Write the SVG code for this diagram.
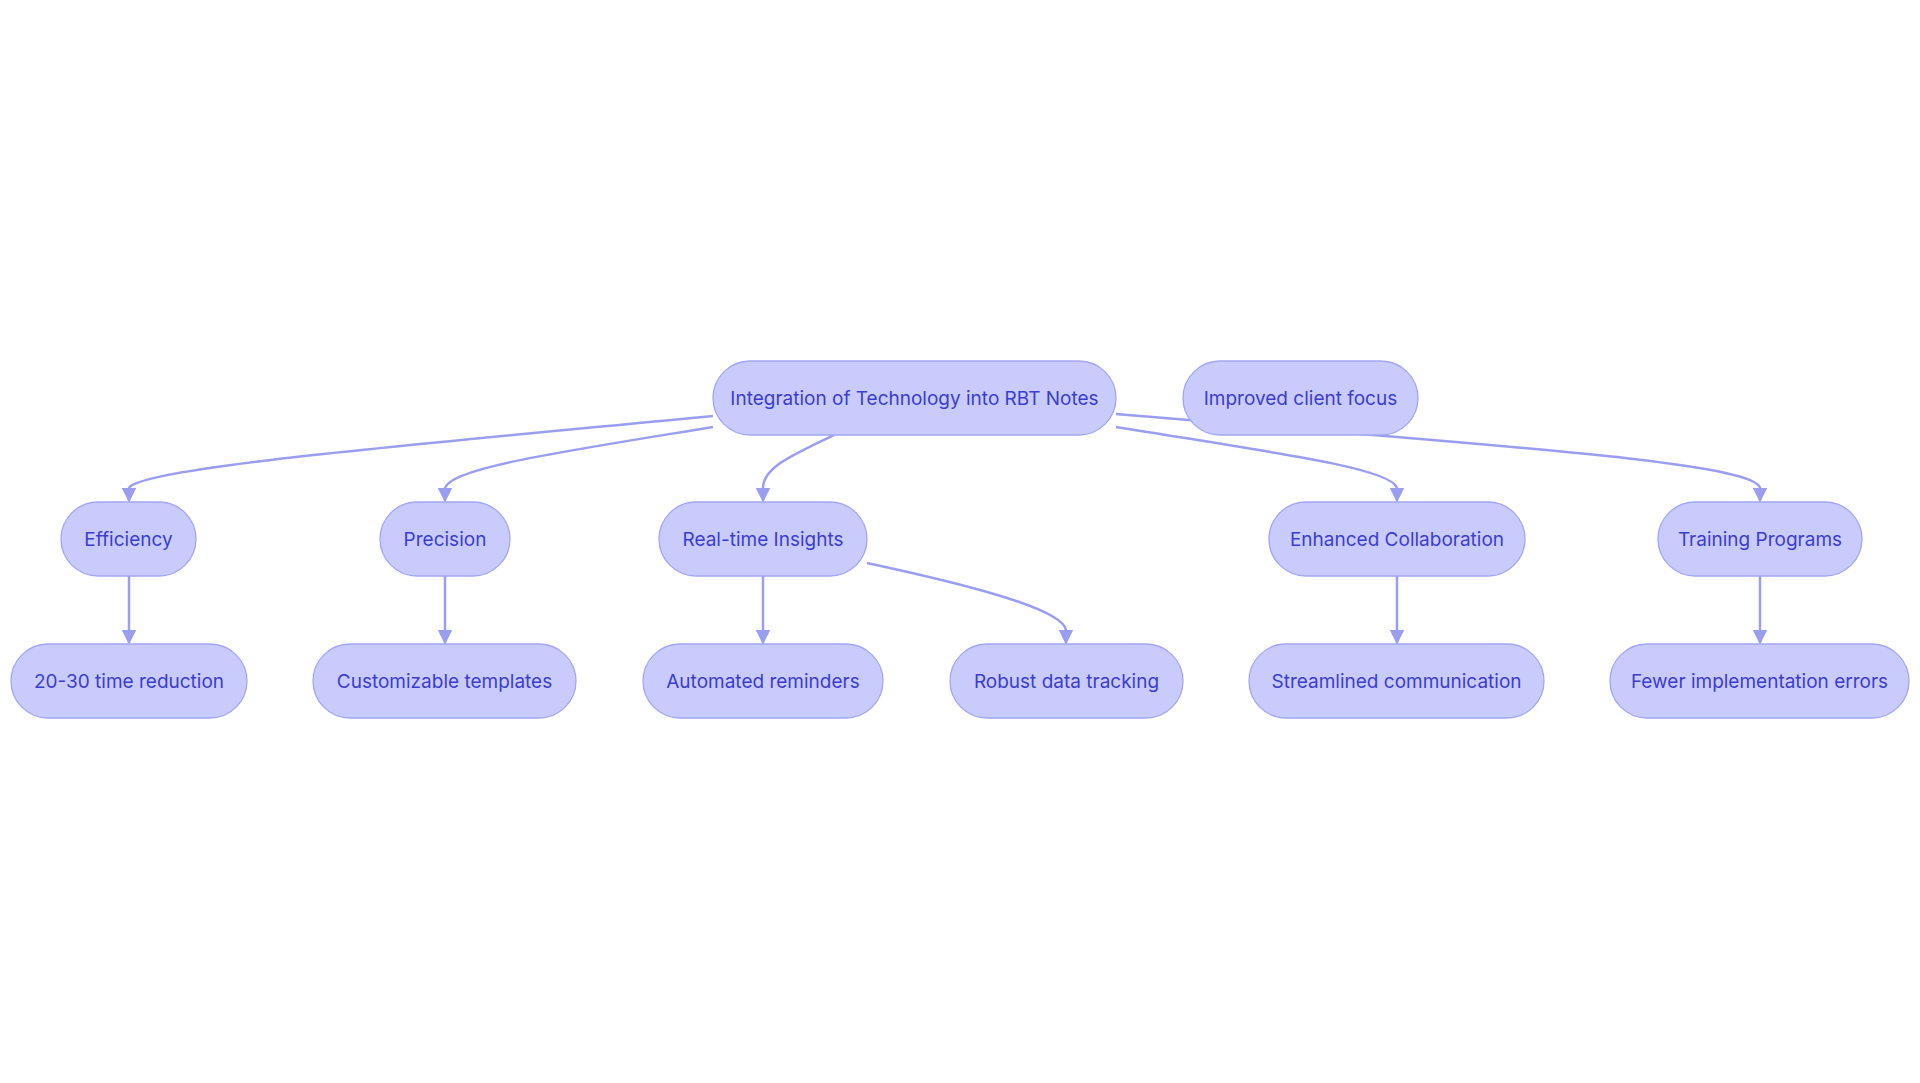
<svg xmlns="http://www.w3.org/2000/svg" width="1920" height="1083" viewBox="0 0 1920 1083">
<defs>
<style>
.n rect{fill:#c9cbfd;stroke:#a3a6f4;stroke-width:1.3}
.n text{font-family:Inter,"Liberation Sans",sans-serif;font-size:19px;fill:#3c3dce;text-anchor:middle;dominant-baseline:central}
.e path{fill:none;stroke:#9b9ef0;stroke-width:2.5}
</style>
<marker id="a" viewBox="0 0 10 10" refX="9" refY="5" markerWidth="6" markerHeight="6" orient="auto" markerUnits="strokeWidth"><path d="M0,0L10,5L0,10z" fill="#9b9ef0"/></marker>
</defs>
<rect width="1920" height="1083" fill="#fff"/>
<g class="e">
<path d="M713,416 C400,446 140,468 129,488 L129,501" marker-end="url(#a)"/>
<path d="M713,427 C560,452 450,468 445,488 L445,501" marker-end="url(#a)"/>
<path d="M834,435 C790,456 763,468 763,488 L763,501" marker-end="url(#a)"/>
<path d="M1116,427 C1270,452 1392,468 1397,488 L1397,501" marker-end="url(#a)"/>
<path d="M1116,414 C1500,446 1755,462 1760,488 L1760,501" marker-end="url(#a)"/>
<path d="M867,563 C960,583 1062,608 1066,630 L1066,643" marker-end="url(#a)"/>
<path d="M129,576 L129,643" marker-end="url(#a)"/>
<path d="M445,576 L445,643" marker-end="url(#a)"/>
<path d="M763,576 L763,643" marker-end="url(#a)"/>
<path d="M1397,576 L1397,643" marker-end="url(#a)"/>
<path d="M1760,576 L1760,643" marker-end="url(#a)"/>
</g>
<g id="root" class="n"><rect x="713" y="361" width="403" height="74" rx="37"/><text x="914.5" y="398">Integration of Technology into RBT Notes</text></g>
<g id="focus" class="n"><rect x="1183" y="361" width="235" height="74" rx="37"/><text x="1300.5" y="398">Improved client focus</text></g>
<g id="eff" class="n"><rect x="61" y="502" width="135" height="74" rx="37"/><text x="128.5" y="539">Efficiency</text></g>
<g id="prec" class="n"><rect x="380" y="502" width="130" height="74" rx="37"/><text x="445" y="539">Precision</text></g>
<g id="rt" class="n"><rect x="659" y="502" width="208" height="74" rx="37"/><text x="763" y="539">Real-time Insights</text></g>
<g id="collab" class="n"><rect x="1269" y="502" width="256" height="74" rx="37"/><text x="1397" y="539">Enhanced Collaboration</text></g>
<g id="train" class="n"><rect x="1658" y="502" width="204" height="74" rx="37"/><text x="1760" y="539">Training Programs</text></g>
<g id="time" class="n"><rect x="11" y="644" width="236" height="74" rx="37"/><text x="129" y="681">20-30 time reduction</text></g>
<g id="tmpl" class="n"><rect x="313" y="644" width="263" height="74" rx="37"/><text x="444.5" y="681">Customizable templates</text></g>
<g id="rem" class="n"><rect x="643" y="644" width="240" height="74" rx="37"/><text x="763" y="681">Automated reminders</text></g>
<g id="track" class="n"><rect x="950" y="644" width="233" height="74" rx="37"/><text x="1066.5" y="681">Robust data tracking</text></g>
<g id="comm" class="n"><rect x="1249" y="644" width="295" height="74" rx="37"/><text x="1396.5" y="681">Streamlined communication</text></g>
<g id="err" class="n"><rect x="1610" y="644" width="299" height="74" rx="37"/><text x="1759.5" y="681">Fewer implementation errors</text></g>
</svg>
